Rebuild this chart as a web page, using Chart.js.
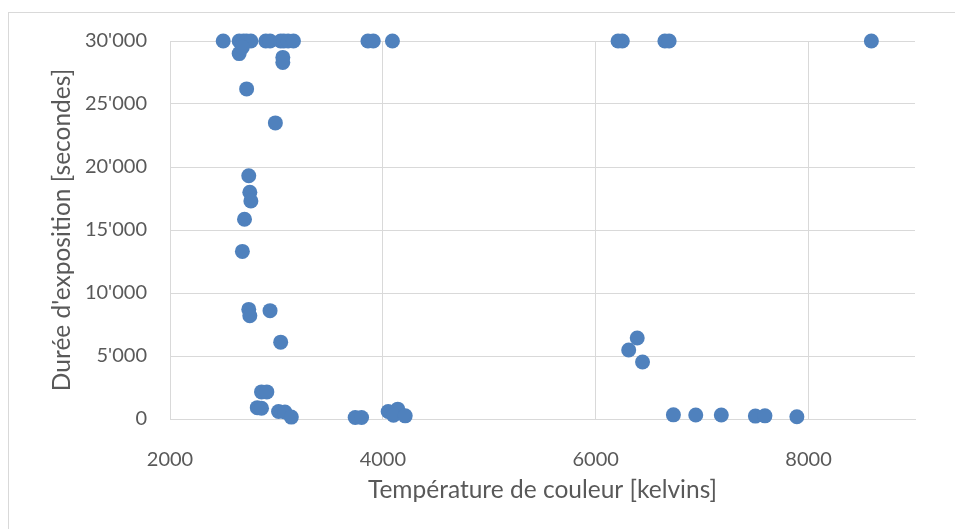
<!DOCTYPE html>
<html>
<head>
<meta charset="utf-8">
<script src="https://cdn.jsdelivr.net/npm/chart.js@4.4.1/dist/chart.umd.min.js"></script>
<style>
  html, body { margin: 0; padding: 0; background: #fff; }
  #wrap { position: relative; width: 955px; height: 529px; overflow: hidden; }
  #frame { position: absolute; left: 8px; top: 12px; width: 980px; height: 560px; border: 1px solid #d9d9d9; }
  #c { position: absolute; left: 0; top: 0; }
</style>
</head>
<body>
<div id="wrap">
  <div id="frame"></div>
  <canvas id="c" width="955" height="529"></canvas>
</div>
<script>
// colour temperature (kelvins) of each measurement
const temperatures = [
    2500, 2650, 2690, 2720, 2760, 2900, 2940, 3040, 3070, 3110, 3160,
    3860, 3910, 4090, 6210, 6250, 6650, 6690, 8590,
    2650, 2680, 3060, 3060, 2720,
    2990, 2740, 2750, 2760, 2700, 2680,
    2740, 2750, 2940, 3040,
    2860, 2910, 2820, 2860, 3020, 3080, 3140,
    3740, 3800, 4050, 4140, 4100, 4210,
    6390, 6310, 6440,
    6730, 6940, 7180, 7500, 7590, 7890
];
// exposure time (seconds), same order
const durations = [
    30000, 30000, 30000, 30000, 30000, 30000, 30000, 30000, 30000, 30000, 30000,
    30000, 30000, 30000, 30000, 30000, 30000, 30000, 30000,
    29000, 29500, 28700, 28300, 26200,
    23500, 19300, 18000, 17300, 15850, 13300,
    8700, 8200, 8600, 6100,
    2150, 2150, 900, 850, 600, 550, 150,
    120, 120, 600, 780, 300, 250,
    6430, 5480, 4520,
    330, 320, 320, 230, 250, 180
];
const xTicks = [2000, 4000, 6000, 8000];
const yTicks = [0, 5000, 10000, 15000, 20000, 25000, 30000];

const points = temperatures.map((t, i) => ({ x: t, y: durations[i] }));

function swissNumber(v) {
    return String(v).replace(/\B(?=(\d{3})+(?!\d))/g, "'");
}

const font = "Lato, 'Open Sans', sans-serif";
const gray = '#595959';
const gridGray = '#d9d9d9';

new Chart(document.getElementById('c'), {
    type: 'scatter',
    data: {
        datasets: [{
            data: points,
            backgroundColor: '#4f81bd',
            borderWidth: 0,
            pointRadius: 7.5,
            pointHoverRadius: 7.5,
            clip: false
        }]
    },
    options: {
        responsive: false,
        animation: false,
        layout: { padding: { top: 41, right: 40, left: 0, bottom: 0 } },
        plugins: { legend: { display: false }, tooltip: { enabled: false } },
        scales: {
            x: {
                type: 'linear',
                min: 2000,
                max: 9000,
                afterFit: s => { s.height = 110; },
                afterBuildTicks: s => { s.ticks = xTicks.map(v => ({ value: v })); },
                grid: { color: gridGray, lineWidth: 1, drawTicks: false },
                border: { color: gridGray },
                ticks: { padding: 29, color: gray, font: { family: font, size: 20 }, callback: v => String(v) },
                title: {
                    display: true,
                    text: 'Température de couleur [kelvins]',
                    color: gray,
                    font: { family: font, size: 24.5 },
                    padding: { top: 0, bottom: 24 }
                }
            },
            y: {
                type: 'linear',
                min: 0,
                max: 30000,
                afterFit: s => { s.width = 170; },
                afterBuildTicks: s => { s.ticks = yTicks.map(v => ({ value: v })); },
                grid: { color: gridGray, lineWidth: 1, drawTicks: false },
                border: { color: gridGray },
                ticks: {
                    padding: 23,
                    color: gray,
                    font: { family: font, size: 20 },
                    callback: v => swissNumber(v)
                },
                title: {
                    display: true,
                    text: "Durée d'exposition [secondes]",
                    color: gray,
                    font: { family: font, size: 24.5 },
                    padding: { top: 47, bottom: 0 }
                }
            }
        }
    }
});
</script>
</body>
</html>
